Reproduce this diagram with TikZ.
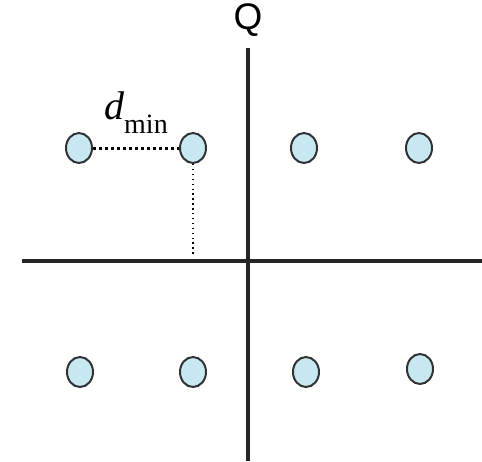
\documentclass[tikz,border=0pt]{standalone}
\usepackage{fontspec}
\setmainfont{Liberation Serif}
\newfontfamily\qfont{Liberation Sans}
\usetikzlibrary{shapes.geometric}
\definecolor{ptfill}{RGB}{200,232,241}
\definecolor{ptline}{RGB}{50,50,50}
\begin{document}
\begin{tikzpicture}[x=1pt,y=-1pt,
  pt/.style={ellipse, draw=ptline, line width=2pt, fill=ptfill, minimum width=26pt, minimum height=30pt, inner sep=0pt},
  axis/.style={line width=3.5pt, draw=black!85},
  ]
\useasboundingbox (0,0) rectangle (482,461);
\coordinate (vt) at (248,48);
\coordinate (vb) at (248,461);
\coordinate (hl) at (22,261);
\coordinate (hr) at (482,261);
\draw[axis] (vt) -- (vb);
\draw[axis] (hl) -- (hr);
\node[font=\qfont\fontsize{37}{37}\selectfont, inner sep=0pt] (q) at (248,20) {Q};
\node[pt] (a1) at (79,148) {};
\node[pt] (a2) at (193,148) {};
\node[pt] (a3) at (304,148) {};
\node[pt] (a4) at (419,148) {};
\node[pt] (b1) at (80,372) {};
\node[pt] (b2) at (193,372) {};
\node[pt] (b3) at (306,372) {};
\node[pt] (b4) at (420,369) {};
\coordinate (foot) at (193,257);
\draw[line width=3pt, dash pattern=on 3pt off 3pt] (a1.east) -- (a2.west);
\draw[line width=1.4pt, dash pattern=on 1.4pt off 3.5pt] (a2.south) -- (foot);
\node[anchor=base west, inner sep=0pt] (dm) at (104,119) {\fontsize{40}{40}\selectfont\itshape d\raisebox{-14pt}{\fontsize{28}{28}\selectfont\upshape min}};
\end{tikzpicture}
\end{document}
